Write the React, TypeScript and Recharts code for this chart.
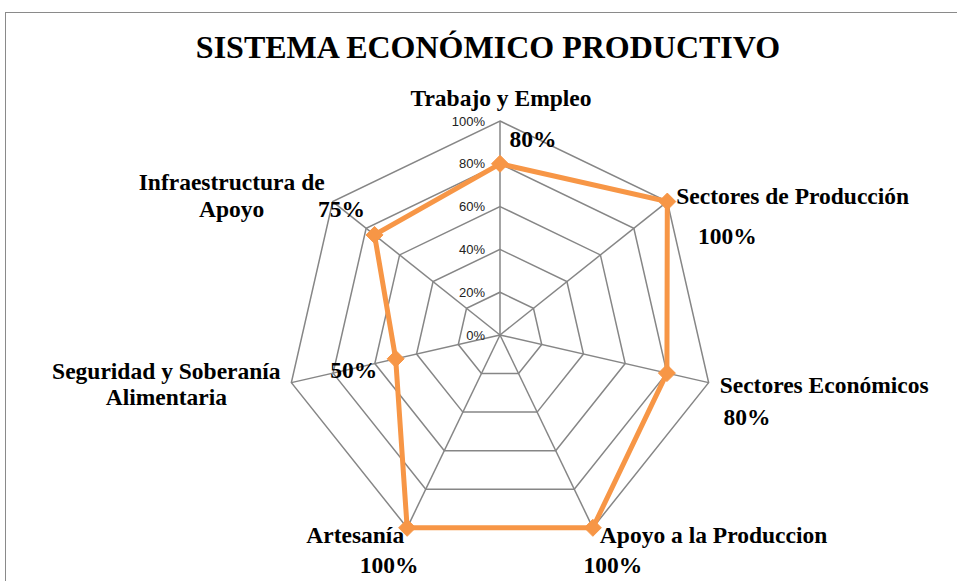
import React from 'react';
import { RadarChart, Radar, PolarGrid, PolarAngleAxis, PolarRadiusAxis } from 'recharts';

const TITLE = 'SISTEMA ECONÓMICO PRODUCTIVO';
const CATEGORIES = [
  'Trabajo y Empleo',
  'Sectores de Producción',
  'Sectores Económicos',
  'Apoyo a la Produccion',
  'Artesanía',
  'Seguridad y Soberanía\nAlimentaria',
  'Infraestructura de\nApoyo',
];
const VALUES = [80, 100, 80, 100, 100, 50, 75];
const RADIUS_TICKS = [0, 20, 40, 60, 80, 100];

const data = CATEGORIES.map((name, i) => ({ name, value: VALUES[i] }));

// layout (not data): label offsets
const CAT_LAYOUT = [
  { dx: 1, dy: -15, anchor: 'middle', lh: 26 },
  { dx: 9, dy: 2, anchor: 'start', lh: 26 },
  { dx: 11, dy: 10, anchor: 'start', lh: 26 },
  { dx: 7, dy: 15, anchor: 'start', lh: 26 },
  { dx: -3, dy: 15, anchor: 'end', lh: 26 },
  { dx: -125, dy: -4, anchor: 'middle', lh: 26 },
  { dx: -101, dy: -12, anchor: 'middle', lh: 27 },
];
const VAL_LAYOUT = [
  { dx: 33, dy: -17 },
  { dx: 60, dy: 42 },
  { dx: 80, dy: 52 },
  { dx: 20, dy: 45 },
  { dx: -18, dy: 45 },
  { dx: -42, dy: 19 },
  { dx: -33, dy: -18 },
];

const SERIF = '"Liberation Serif", "Times New Roman", serif';
const ORANGE = '#F79646';
const GRID = '#868686';
const TICK_SIZE = 8;

const AngleTick = (props: any) => {
  const { x, y, payload, index } = props;
  const a = (-(payload.coordinate ?? 0) * Math.PI) / 180;
  const vx = x - TICK_SIZE * Math.cos(a);
  const vy = y - TICK_SIZE * Math.sin(a);
  const i = index ?? payload.index ?? 0;
  const L = CAT_LAYOUT[i];
  const lines = String(payload.value).split('\n');
  return (
    <text
      x={vx + L.dx}
      y={vy + L.dy}
      textAnchor={L.anchor}
      fontFamily={SERIF}
      fontWeight="bold"
      fontSize={23.5}
      fill="#000"
    >
      {lines.map((ln, k) => (
        <tspan key={k} x={vx + L.dx} dy={k === 0 ? 0 : L.lh}>
          {ln}
        </tspan>
      ))}
    </text>
  );
};

const RadiusTick = (props: any) => {
  const { x, y, payload } = props;
  return (
    <text
      x={x - 15}
      y={y}
      textAnchor="end"
      dominantBaseline="central"
      fontFamily='"Liberation Sans", Arial, sans-serif'
      fontSize={13}
      fill="#222"
    >
      {`${payload.value}%`}
    </text>
  );
};

const DiamondDot = (props: any) => {
  const { cx, cy, index, payload } = props;
  if (cx == null || cy == null) return null;
  const s = 8.5;
  const v = payload?.value ?? VALUES[index];
  const L = VAL_LAYOUT[index] || { dx: 0, dy: 0 };
  return (
    <g key={`d-${index}`}>
      <polygon
        points={`${cx},${cy - s} ${cx + s},${cy} ${cx},${cy + s} ${cx - s},${cy}`}
        fill={ORANGE}
        stroke={ORANGE}
        strokeWidth={1}
      />
      <text
        x={cx + L.dx}
        y={cy + L.dy}
        textAnchor="middle"
        fontFamily={SERIF}
        fontWeight="bold"
        fontSize={23.5}
        fill="#000"
      >
        {`${typeof v === 'number' ? v : VALUES[index]}%`}
      </text>
    </g>
  );
};

export default function App() {
  return (
    <div
      style={{
        position: 'absolute',
        left: 0,
        top: 0,
        width: 957,
        height: 581,
        overflow: 'hidden',
        background: '#fff',
      }}
    >
      <div
        style={{
          position: 'absolute',
          left: 5,
          top: 12,
          width: 1200,
          height: 1200,
          border: '1.5px solid #8a8a8a',
          boxSizing: 'border-box',
        }}
      />
      <div style={{ position: 'absolute', left: 0, top: 0 }}>
        <RadarChart
          width={957}
          height={581}
          data={data}
          cx={500}
          cy={335}
          outerRadius={214}
          margin={{ top: 0, right: 0, bottom: 0, left: 0 }}
        >
          <PolarGrid gridType="polygon" stroke={GRID} strokeWidth={1.5} />
          <PolarAngleAxis
            dataKey="name"
            tick={<AngleTick />}
            tickLine={false}
            axisLine={false}
          />
          <PolarRadiusAxis
            angle={90}
            domain={[0, 100]}
            ticks={RADIUS_TICKS as any}
            tickCount={6}
            axisLine={false}
            tick={<RadiusTick />}
          />
          <Radar
            dataKey="value"
            stroke={ORANGE}
            strokeWidth={5}
            fill="none"
            fillOpacity={0}
            dot={<DiamondDot />}
            isAnimationActive={false}
          />
        </RadarChart>
      </div>
      <svg
        width={957}
        height={581}
        style={{ position: 'absolute', left: 0, top: 0, pointerEvents: 'none' }}
      >
        <text
          x={488}
          y={58}
          textAnchor="middle"
          fontFamily={SERIF}
          fontWeight="bold"
          fontSize={32}
          fill="#000"
        >
          {TITLE}
        </text>
      </svg>
    </div>
  );
}
